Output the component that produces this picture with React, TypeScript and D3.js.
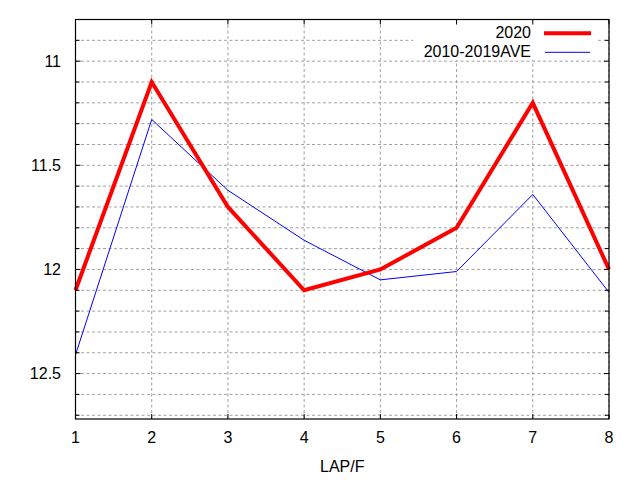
import React from "react";
import * as d3 from "d3";

const laps = [1, 2, 3, 4, 5, 6, 7, 8];
const series2020 = [12.1, 11.1, 11.7, 12.1, 12.0, 11.8, 11.2, 12.0];
const seriesAve = [12.41, 11.28, 11.62, 11.86, 12.05, 12.01, 11.64, 12.11];
const yMajorTicks = [11, 11.5, 12, 12.5];
const yMinorTicks = [10.8, 10.9, 11.1, 11.2, 11.3, 11.4, 11.6, 11.7, 11.8, 11.9, 12.1, 12.2, 12.3, 12.4, 12.6, 12.7];
const legendLabels = ["2020", "2010-2019AVE"];
const xTitle = "LAP/F";

const W = 640, H = 480;
const L = 75.5, R = 609, T = 19.5, B = 419;
const FONT = "'Liberation Sans', Arial, sans-serif";
const FS = 16;

export default function App() {
  const x = d3.scaleLinear().domain([1, 8]).range([L, R]);
  const y = d3.scaleLinear().domain([10.8, 12.718]).range([T, B]);
  const line = d3.line<number>().x((_, i) => x(laps[i])).y((d) => y(d));
  const gridY = [...yMajorTicks, ...yMinorTicks];
  const grid = "#a0a0a0";
  return (
    <svg width={W} height={H} style={{ position: "absolute", left: 0, top: 0, background: "#fff" }}>
      <rect x={0} y={0} width={W} height={H} fill="#fff" />
      {gridY.map((v) => (
        <line key={"gy" + v} x1={L} x2={R} y1={y(v)} y2={y(v)} stroke={grid} strokeWidth={1} strokeDasharray="3,2.5" />
      ))}
      {laps.map((v) => (
        <line key={"gx" + v} x1={x(v)} x2={x(v)} y1={T} y2={B} stroke={grid} strokeWidth={1} strokeDasharray="3,2.5" />
      ))}
      <rect x={413} y={T + 0.5} width={185} height={40} fill="#fff" />
      <path d={line(seriesAve) || ""} fill="none" stroke="#0000ff" strokeWidth={1} />
      <path d={line(series2020) || ""} fill="none" stroke="#ff0000" strokeWidth={4} strokeLinejoin="miter" />
      {yMajorTicks.map((v) => (
        <g key={"ty" + v}>
          <line x1={L} x2={L + 5} y1={y(v)} y2={y(v)} stroke="#000" />
          <line x1={R} x2={R - 5} y1={y(v)} y2={y(v)} stroke="#000" />
          <text x={61} y={y(v)} dy="0.36em" textAnchor="end" fontFamily={FONT} fontSize={FS} fill="#000">{v}</text>
        </g>
      ))}
      {yMinorTicks.map((v) => (
        <g key={"tmy" + v}>
          <line x1={L} x2={L + 4} y1={y(v)} y2={y(v)} stroke="#000" />
          <line x1={R} x2={R - 4} y1={y(v)} y2={y(v)} stroke="#000" />
        </g>
      ))}
      {laps.map((v) => (
        <g key={"tx" + v}>
          <line x1={x(v)} x2={x(v)} y1={B} y2={B - 5} stroke="#000" />
          <line x1={x(v)} x2={x(v)} y1={T} y2={T + 5} stroke="#000" />
          <text x={x(v)} y={443} textAnchor="middle" fontFamily={FONT} fontSize={FS} fill="#000">{v}</text>
        </g>
      ))}
      <rect x={L} y={T} width={R - L} height={B - T} fill="none" stroke="#000" strokeWidth={1.2} />
      <text x={(L + R) / 2} y={472} textAnchor="middle" fontFamily={FONT} fontSize={FS} fill="#000">{xTitle}</text>
      <text x={531} y={38} textAnchor="end" fontFamily={FONT} fontSize={FS} fill="#000">{legendLabels[0]}</text>
      <line x1={544} x2={591} y1={33.3} y2={33.3} stroke="#ff0000" strokeWidth={4} />
      <text x={531} y={57} textAnchor="end" fontFamily={FONT} fontSize={FS} fill="#000">{legendLabels[1]}</text>
      <line x1={545} x2={590} y1={52.3} y2={52.3} stroke="#0000ff" strokeWidth={1} />
    </svg>
  );
}
